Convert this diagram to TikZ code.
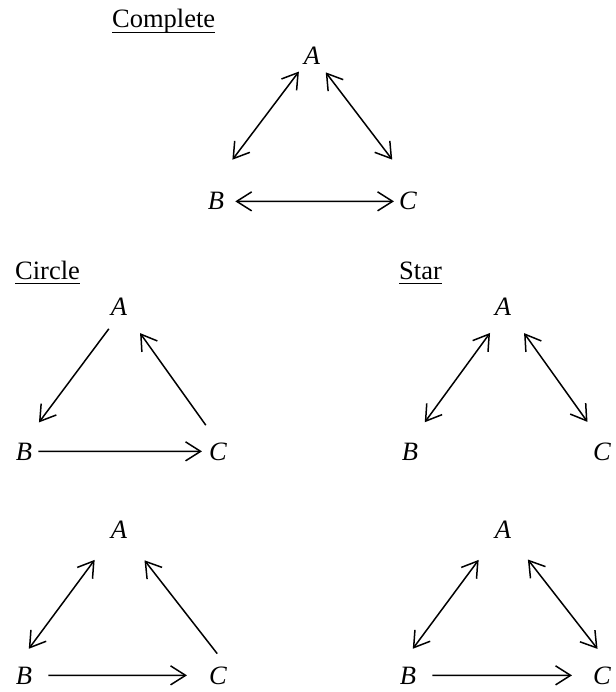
\documentclass[tikz,border=0pt]{standalone}
\usepackage{fontspec}
\setmainfont{Liberation Serif}
\usetikzlibrary{arrows.meta}

% underlined heading, rule set close under the baseline
\newcommand{\ulab}[1]{\setbox0\hbox{#1}\rlap{\rule[-5.2pt]{\wd0}{1.4pt}}#1}

\begin{document}
\begin{tikzpicture}[
    x=1pt, y=-1pt,
    title/.style={
        inner sep=0pt,
        anchor=base west,
        font=\fontsize{26.5pt}{30pt}\selectfont
    },
    vertex/.style={
        inner sep=0pt,
        anchor=base,
        font=\fontsize{26.5pt}{30pt}\selectfont\itshape
    },
    both/.style={
        {Straight Barb[length=15pt,width=19pt]}-{Straight Barb[length=15pt,width=19pt]},
        line width=1.5pt
    },
    single/.style={
        -{Straight Barb[length=15pt,width=19pt]},
        line width=1.5pt
    }
]
\useasboundingbox (0,0) rectangle (615,692);

% Nodes
\node (tcom) [title] at (112,28) {\ulab{Complete}};
\node (a1) [vertex] at (312,65) {A};
\node (b1) [vertex] at (216,210) {B};
\node (c1) [vertex] at (408,210) {C};

\node (tcir) [title] at (15,279) {\ulab{Circle}};
\node (a2) [vertex] at (119,315) {A};
\node (b2) [vertex] at (24,460) {B};
\node (c2) [vertex] at (218,460) {C};

\node (tsta) [title] at (399,279) {\ulab{Star}};
\node (a3) [vertex] at (503,315) {A};
\node (b3) [vertex] at (410,460) {B};
\node (c3) [vertex] at (602,460) {C};

\node (a4) [vertex] at (119,538) {A};
\node (b4) [vertex] at (24,684) {B};
\node (c4) [vertex] at (218,684) {C};

\node (a5) [vertex] at (503,538) {A};
\node (b5) [vertex] at (408,684) {B};
\node (c5) [vertex] at (602,684) {C};

% Paths
\draw [both, shorten <=8pt, shorten >=41pt] (a1.south west) -- (b1.north west);
\draw [both, shorten <=9pt, shorten >=41pt] (a1.south east) -- (c1.north east);
\draw [both, shorten <=11pt, shorten >=5pt] (b1.east) -- (c1.west);

\draw [single, shorten <=17pt, shorten >=25pt] (a2.south) -- (b2.north);
\draw [single, shorten <=21pt, shorten >=22pt] (c2.north) -- (a2.south east);
\draw [single, shorten <=6pt, shorten >=7pt] (b2.east) -- (c2.west);

\draw [both, shorten <=22pt, shorten >=25pt] (a3.south) -- (b3.north);
\draw [both, shorten <=22pt, shorten >=25pt] (a3.south east) -- (c3.north);

\draw [both, shorten <=27pt, shorten >=22pt] (a4.south west) -- (b4.north west);
\draw [single, shorten <=16pt, shorten >=28pt] (c4.north east) -- (a4.south east);
\draw [single, shorten <=16pt, shorten >=22pt] (b4.east) -- (c4.west);

\draw [both, shorten <=27pt, shorten >=22pt] (a5.south west) -- (b5.north west);
\draw [both, shorten <=27pt, shorten >=22pt] (a5.south east) -- (c5.north east);
\draw [single, shorten <=16pt, shorten >=21pt] (b5.east) -- (c5.west);

\end{tikzpicture}
\end{document}
